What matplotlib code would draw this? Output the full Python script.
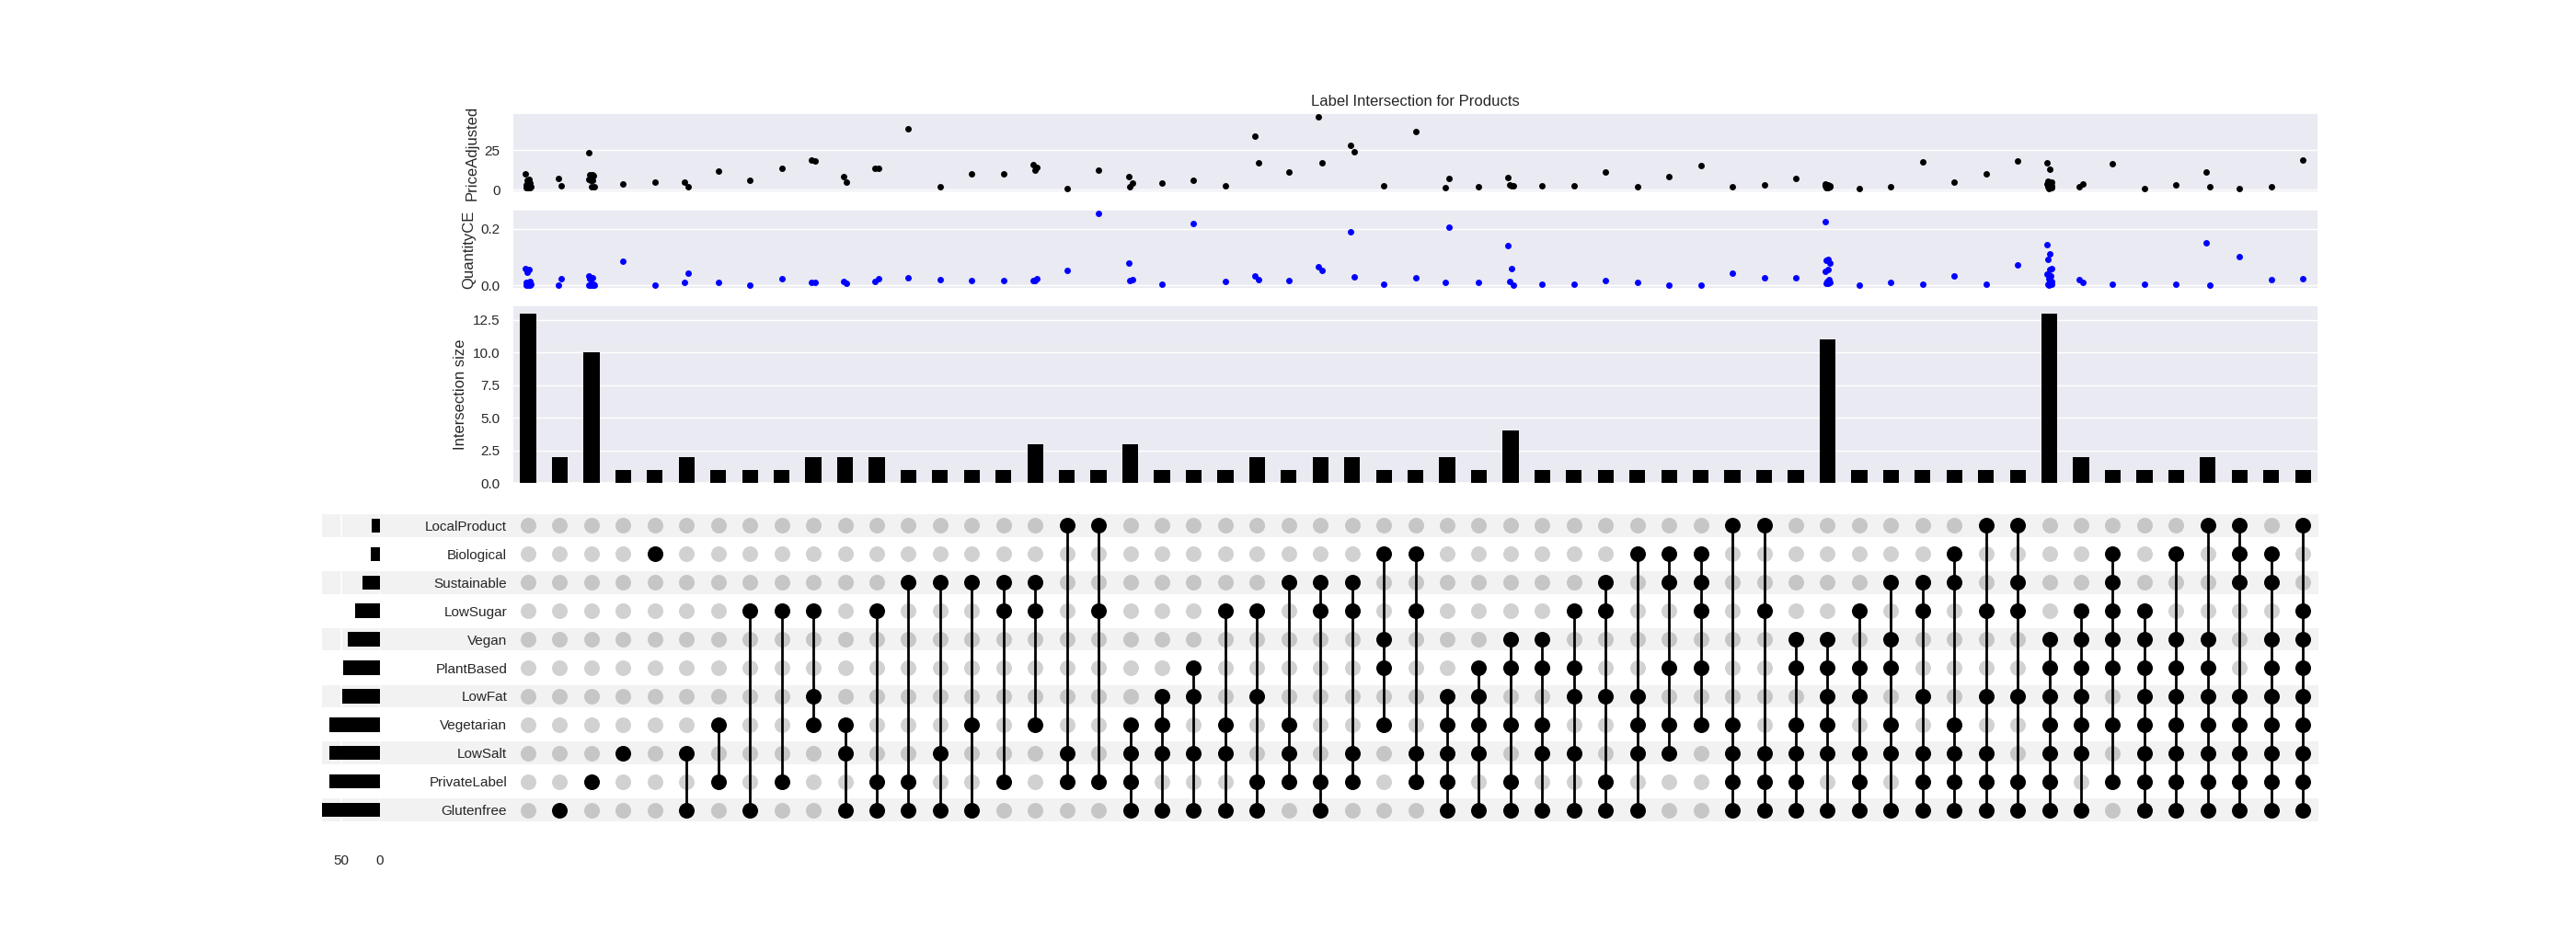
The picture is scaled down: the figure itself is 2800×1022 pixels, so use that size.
import numpy as np
import matplotlib
matplotlib.use("Agg")
import matplotlib.pyplot as plt
import matplotlib.transforms as mtransforms
from matplotlib.patches import Rectangle
import seaborn as sns

# categories, bottom row first
categories = ['Glutenfree', 'PrivateLabel', 'LowSalt', 'Vegetarian', 'LowFat', 'PlantBased',
              'Vegan', 'LowSugar', 'Sustainable', 'Biological', 'LocalProduct']

# label combinations, in the order of the columns
intersections = [
    (),
    ('Glutenfree',),
    ('PrivateLabel',),
    ('LowSalt',),
    ('Biological',),
    ('LowSalt', 'Glutenfree'),
    ('Vegetarian', 'PrivateLabel'),
    ('LowSugar', 'Glutenfree'),
    ('LowSugar', 'PrivateLabel'),
    ('LowSugar', 'LowFat', 'Vegetarian'),
    ('Vegetarian', 'LowSalt', 'Glutenfree'),
    ('LowSugar', 'PrivateLabel', 'Glutenfree'),
    ('Sustainable', 'PrivateLabel', 'Glutenfree'),
    ('Sustainable', 'LowSalt', 'Glutenfree'),
    ('Sustainable', 'Vegetarian', 'Glutenfree'),
    ('Sustainable', 'LowSugar', 'PrivateLabel'),
    ('Sustainable', 'LowSugar', 'Vegetarian'),
    ('LocalProduct', 'LowSalt', 'PrivateLabel'),
    ('LocalProduct', 'LowSugar', 'PrivateLabel'),
    ('Vegetarian', 'LowSalt', 'PrivateLabel', 'Glutenfree'),
    ('LowFat', 'Vegetarian', 'LowSalt', 'Glutenfree'),
    ('PlantBased', 'LowFat', 'LowSalt', 'Glutenfree'),
    ('LowSugar', 'Vegetarian', 'LowSalt', 'Glutenfree'),
    ('LowSugar', 'LowFat', 'PrivateLabel', 'Glutenfree'),
    ('Sustainable', 'Vegetarian', 'LowSalt', 'PrivateLabel'),
    ('Sustainable', 'LowSugar', 'PrivateLabel', 'Glutenfree'),
    ('Sustainable', 'LowSugar', 'LowSalt', 'PrivateLabel'),
    ('Biological', 'Vegan', 'PlantBased', 'Vegetarian'),
    ('Biological', 'LowSugar', 'LowSalt', 'PrivateLabel'),
    ('LowFat', 'Vegetarian', 'LowSalt', 'PrivateLabel', 'Glutenfree'),
    ('PlantBased', 'LowFat', 'Vegetarian', 'LowSalt', 'Glutenfree'),
    ('Vegan', 'PlantBased', 'Vegetarian', 'PrivateLabel', 'Glutenfree'),
    ('Vegan', 'PlantBased', 'Vegetarian', 'LowSalt', 'Glutenfree'),
    ('LowSugar', 'PlantBased', 'LowFat', 'LowSalt', 'Glutenfree'),
    ('Sustainable', 'LowSugar', 'LowFat', 'PrivateLabel', 'Glutenfree'),
    ('Biological', 'LowFat', 'Vegetarian', 'LowSalt', 'Glutenfree'),
    ('Biological', 'Sustainable', 'PlantBased', 'Vegetarian', 'LowSalt'),
    ('Biological', 'Sustainable', 'LowSugar', 'PlantBased', 'Vegetarian'),
    ('LocalProduct', 'Vegetarian', 'LowSalt', 'PrivateLabel', 'Glutenfree'),
    ('LocalProduct', 'LowSugar', 'LowSalt', 'PrivateLabel', 'Glutenfree'),
    ('Vegan', 'PlantBased', 'Vegetarian', 'LowSalt', 'PrivateLabel', 'Glutenfree'),
    ('Vegan', 'PlantBased', 'LowFat', 'Vegetarian', 'LowSalt', 'Glutenfree'),
    ('LowSugar', 'PlantBased', 'LowFat', 'LowSalt', 'PrivateLabel', 'Glutenfree'),
    ('Sustainable', 'Vegan', 'PlantBased', 'Vegetarian', 'LowSalt', 'Glutenfree'),
    ('Sustainable', 'LowSugar', 'LowFat', 'LowSalt', 'PrivateLabel', 'Glutenfree'),
    ('Biological', 'Sustainable', 'Vegetarian', 'LowSalt', 'PrivateLabel', 'Glutenfree'),
    ('LocalProduct', 'LowSugar', 'LowFat', 'LowSalt', 'PrivateLabel', 'Glutenfree'),
    ('LocalProduct', 'Sustainable', 'LowSugar', 'LowFat', 'PrivateLabel', 'Glutenfree'),
    ('Vegan', 'PlantBased', 'LowFat', 'Vegetarian', 'LowSalt', 'PrivateLabel', 'Glutenfree'),
    ('LowSugar', 'Vegan', 'PlantBased', 'LowFat', 'Vegetarian', 'LowSalt', 'Glutenfree'),
    ('Biological', 'Sustainable', 'LowSugar', 'Vegan', 'PlantBased', 'Vegetarian', 'PrivateLabel'),
    ('LowSugar', 'Vegan', 'PlantBased', 'LowFat', 'Vegetarian', 'LowSalt', 'PrivateLabel', 'Glutenfree'),
    ('Biological', 'Vegan', 'PlantBased', 'LowFat', 'Vegetarian', 'LowSalt', 'PrivateLabel', 'Glutenfree'),
    ('LocalProduct', 'Vegan', 'PlantBased', 'LowFat', 'Vegetarian', 'LowSalt', 'PrivateLabel', 'Glutenfree'),
    ('LocalProduct', 'Biological', 'Sustainable', 'LowFat', 'Vegetarian', 'LowSalt', 'PrivateLabel', 'Glutenfree'),
    ('Biological', 'Sustainable', 'Vegan', 'PlantBased', 'LowFat', 'Vegetarian', 'LowSalt', 'PrivateLabel', 'Glutenfree'),
    ('LocalProduct', 'LowSugar', 'Vegan', 'PlantBased', 'LowFat', 'Vegetarian', 'LowSalt', 'PrivateLabel', 'Glutenfree'),
]

# one value per product, grouped by column
price_adjusted = [
    [10.4, 6.4, 5.9, 4.5, 3.6, 3.2, 2.7, 2.3, 1.9, 1.7, 1.5, 1.3, 1.3],
    [7.4, 2.3],
    [23.5, 9.7, 9.5, 9.2, 7.0, 6.4, 6.2, 6.0, 2.1, 2.0],
    [4.0], [5.1], [4.9, 1.7], [11.9], [6.2], [13.6], [18.9, 18.4], [8.5, 5.1],
    [13.6, 13.6], [38.6], [1.7], [10.2], [10.2], [16.1, 14.0, 12.7], [1.1], [12.5],
    [8.1, 4.4, 1.7], [4.5], [6.2], [2.8], [33.7, 17.2], [11.4], [46.0, 17.0],
    [28.2, 24.2], [2.3], [36.9], [1.3, 7.4], [1.7], [7.8, 2.7, 3.2, 2.3], [2.3],
    [2.8], [11.4], [1.7], [8.5], [15.3], [1.7], [3.4], [7.4],
    [3.6, 3.2, 3.0, 2.8, 2.6, 2.4, 2.2, 2.0, 1.8, 1.6, 1.5],
    [0.6], [1.7], [17.6], [5.1], [10.2], [18.2],
    [17.2, 13.3, 5.5, 4.9, 4.4, 4.0, 3.6, 3.2, 2.8, 2.3, 1.9, 1.5, 1.1],
    [1.7, 3.6], [16.5], [1.1], [3.4], [11.0, 1.9], [1.1], [1.7], [18.8],
]

quantity_ce = [
    [0.061, 0.055, 0.046, 0.014, 0.012, 0.010, 0.008, 0.006, 0.004, 0.003, 0.002, 0.001, 0.001],
    [0.002, 0.024],
    [0.033, 0.028, 0.024, 0.005, 0.003, 0.002, 0.001, 0.001, 0.0, 0.0],
    [0.084], [0.0], [0.010, 0.043], [0.010], [0.0], [0.023], [0.012, 0.011], [0.014, 0.009],
    [0.013, 0.023], [0.026], [0.019], [0.016], [0.016], [0.016, 0.023, 0.018], [0.052], [0.255],
    [0.078, 0.022, 0.017], [0.006], [0.219], [0.013], [0.034, 0.020], [0.016], [0.066, 0.054],
    [0.189, 0.030], [0.006], [0.026], [0.010, 0.206], [0.010], [0.140, 0.058, 0.015, 0.001], [0.003],
    [0.003], [0.016], [0.010], [0.0], [0.0], [0.042], [0.026], [0.026],
    [0.225, 0.093, 0.090, 0.078, 0.055, 0.050, 0.020, 0.014, 0.010, 0.008, 0.007],
    [0.0], [0.010], [0.006], [0.032], [0.006], [0.071],
    [0.144, 0.112, 0.092, 0.058, 0.056, 0.041, 0.033, 0.023, 0.014, 0.010, 0.006, 0.004, 0.002],
    [0.019, 0.010], [0.006], [0.003], [0.006], [0.149, 0.001], [0.100], [0.019], [0.023],
]

price_ticks = [0, 25]
quantity_ticks = [0.0, 0.2]
size_ticks = [0.0, 2.5, 5.0, 7.5, 10.0, 12.5]
total_ticks = [50, 0]

sns.set_theme(style='darkgrid')
plt.rcParams['font.family'] = ['Liberation Sans', 'DejaVu Sans']

n_cols = len(intersections)
n_rows = len(categories)
xs = np.arange(n_cols)
counts = [len(p) for p in price_adjusted]
totals = [sum(c for inter, c in zip(intersections, counts) if cat in inter) for cat in categories]


def spread(n):
    # small fixed horizontal offsets, like strip-plot jitter
    if n == 1:
        return np.zeros(1)
    off = (np.arange(n) * 0.618034) % 1.0
    return (off - off.mean()) * 0.18


W, H = 2800, 1022
fig = plt.figure(figsize=(W / 100, H / 100), dpi=100)

left = 556.8 / W
width = (2520.4 - 556.8) / W

ax_p = fig.add_axes([left, 1 - 209.3 / H, width, 86 / H])
ax_q = fig.add_axes([left, 1 - 314.3 / H, width, 86.6 / H])
ax_b = fig.add_axes([left, 1 - 525 / H, width, 193.3 / H])
ax_m = fig.add_axes([left, 1 - 896 / H, width, 340 / H])
ax_t = fig.add_axes([350 / W, 1 - 896 / H, 62.5 / W, 340 / H])

# strip panels
for ax, vals, col in [(ax_p, price_adjusted, 'black'), (ax_q, quantity_ce, 'blue')]:
    for j, v in enumerate(vals):
        ax.scatter(j + spread(len(v)), v, s=25, color=col, linewidths=0, zorder=3)
    ax.set_xlim(-0.5, n_cols - 0.5)
    ax.set_xticks([])
    ax.grid(axis='x', visible=False)

ax_p.set_yticks(price_ticks)
ax_p.set_ylabel('PriceAdjusted')
ax_p.set_title('Label Intersection for Products')
ax_q.set_yticks(quantity_ticks)
ax_q.set_yticklabels([f'{t:.1f}' for t in quantity_ticks])
ax_q.set_ylabel('QuantityCE')

# intersection sizes
ax_b.bar(xs, counts, width=0.5, color='black', linewidth=0, zorder=3)
ax_b.set_xlim(-0.5, n_cols - 0.5)
ax_b.set_xticks([])
ax_b.grid(axis='x', visible=False)
ax_b.set_yticks(size_ticks)
ax_b.set_yticklabels([f'{t:.1f}' for t in size_ticks])
ax_b.set_ylabel('Intersection size')

# matrix
ax_m.set_facecolor('white')
ax_m.grid(False)
ax_m.set_xlim(-0.5, n_cols - 0.5)
ax_m.set_ylim(-0.5, n_rows - 0.5)
ax_m.set_xticks([])
ax_m.set_yticks(range(n_rows))
ax_m.set_yticklabels(categories)
ax_m.tick_params(axis='y', length=0, pad=4)
for s in ax_m.spines.values():
    s.set_visible(False)

trans = mtransforms.blended_transform_factory(fig.transFigure, ax_m.transData)
for i in range(0, n_rows, 2):
    ax_m.add_patch(Rectangle((350 / W, i - 0.4), (2520.4 - 350) / W, 0.8, transform=trans,
                             facecolor='#f2f2f2', lw=0, zorder=0, clip_on=False))

for j, inter in enumerate(intersections):
    active = [i for i, cat in enumerate(categories) if cat in inter]
    inactive = [i for i, cat in enumerate(categories) if cat not in inter]
    ax_m.scatter([j] * len(inactive), inactive, s=150, color='black', alpha=0.18, linewidths=0, zorder=2)
    if active:
        ax_m.scatter([j] * len(active), active, s=150, color='black', linewidths=0, zorder=3)
        if len(active) > 1:
            ax_m.plot([j, j], [min(active), max(active)], color='black', lw=2, zorder=2.5)

# totals
ax_t.set_facecolor('none')
ax_t.barh(range(n_rows), totals, height=0.5, color='black', linewidth=0, zorder=3)
ax_t.set_xlim(max(totals), 0)
ax_t.set_ylim(-0.5, n_rows - 0.5)
ax_t.set_yticks([])
ax_t.set_xticks(total_ticks)
ax_t.grid(axis='y', visible=False)
ax_t.grid(axis='x', color='white', lw=1.2)
ax_t.tick_params(axis='x', pad=18)
for s in ax_t.spines.values():
    s.set_visible(False)

fig.savefig('out.png', dpi=100)
